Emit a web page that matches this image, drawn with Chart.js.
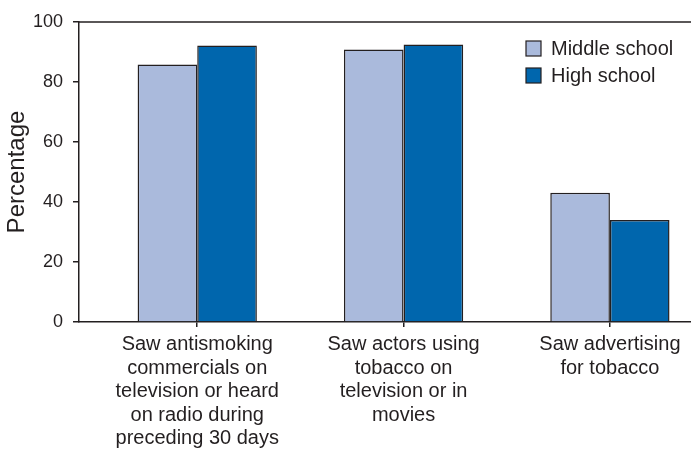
<!DOCTYPE html>
<html>
<head>
<meta charset="utf-8">
<script src="https://cdn.jsdelivr.net/npm/chart.js@4.4.0/dist/chart.umd.min.js"></script>
<style>
  html, body { margin: 0; padding: 0; background: #fff; }
  #wrap { width: 691px; height: 449px; }
</style>
</head>
<body>
<div id="wrap"><canvas id="bars" width="691" height="449"></canvas></div>
<script>
// values
const categories = [
  ["Saw antismoking", "commercials on", "television or heard", "on radio during", "preceding 30 days"],
  ["Saw actors using", "tobacco on", "television or in", "movies"],
  ["Saw advertising", "for tobacco"]
];
const seriesNames = ["Middle school", "High school"];
const middleSchool = [85.8, 90.8, 43.1];
const highSchool = [92.2, 92.5, 34.0];
const yTicks = [0, 20, 40, 60, 80, 100];

const ink = "#231F20";
const colors = ["#AABADC", "#0066AD"];
const font = "'Liberation Sans', Arial, Helvetica, sans-serif";

// frame top line + legend inside plot
const extras = {
  id: "extras",
  afterDraw(chart) {
    const ctx = chart.ctx;
    const a = chart.chartArea;
    ctx.save();
    ctx.strokeStyle = ink;
    ctx.lineWidth = 1.5;
    ctx.beginPath();
    ctx.moveTo(a.left, a.top);
    ctx.lineTo(a.right, a.top);
    ctx.stroke();

    ctx.font = "20px " + font;
    ctx.textBaseline = "middle";
    chart.data.datasets.forEach((ds, i) => {
      const y = 41 + i * 27;
      ctx.fillStyle = ds.backgroundColor;
      ctx.fillRect(526, y, 15, 15);
      ctx.strokeStyle = ink;
      ctx.lineWidth = 1.2;
      ctx.strokeRect(526, y, 15, 15);
      ctx.fillStyle = ink;
      ctx.fillText(ds.label, 551, y + 8);
    });
    ctx.restore();
  }
};

new Chart(document.getElementById("bars"), {
  type: "bar",
  data: {
    datasets: [
      {
        label: seriesNames[0],
        data: middleSchool.map((v, i) => ({ x: i, y: v })),
        backgroundColor: colors[0],
        borderColor: ink,
        borderWidth: 1.5
      },
      {
        label: seriesNames[1],
        data: highSchool.map((v, i) => ({ x: i, y: v })),
        backgroundColor: colors[1],
        borderColor: ink,
        borderWidth: 1.5
      }
    ]
  },
  options: {
    responsive: false,
    devicePixelRatio: 1,
    animation: false,
    layout: { padding: { top: 22, right: 0, bottom: 0, left: 0 } },
    datasets: { bar: { categoryPercentage: 0.578, barPercentage: 1 } },
    plugins: { legend: { display: false }, tooltip: { enabled: false } },
    scales: {
      x: {
        type: "linear",
        offset: false,
        min: -0.573,
        max: 2.393,
        afterBuildTicks: s => { s.ticks = categories.map((c, i) => ({ value: i })); },
        afterFit: s => { s.height = 127; },
        border: { color: ink, width: 1.5 },
        grid: { offset: false, drawOnChartArea: false, color: ink, lineWidth: 1.5, tickLength: 5 },
        ticks: {
          autoSkip: false,
          maxRotation: 0,
          padding: 6,
          color: ink,
          font: { family: font, size: 20, lineHeight: 1.175 },
          callback: v => categories[v]
        }
      },
      y: {
        min: 0,
        max: 100,
        afterBuildTicks: s => { s.ticks = yTicks.map(v => ({ value: v })); },
        afterFit: s => { s.width = 79; },
        border: { color: ink, width: 1.5 },
        grid: { drawOnChartArea: false, color: ink, lineWidth: 1.5, tickLength: 6 },
        ticks: {
          padding: 10,
          color: ink,
          font: { family: font, size: 18 }
        },
        title: {
          display: true,
          text: "Percentage",
          color: ink,
          padding: { top: 3, bottom: 0 },
          font: { family: font, size: 24, lineHeight: 1.2 }
        }
      }
    }
  },
  plugins: [extras]
});
</script>
</body>
</html>
